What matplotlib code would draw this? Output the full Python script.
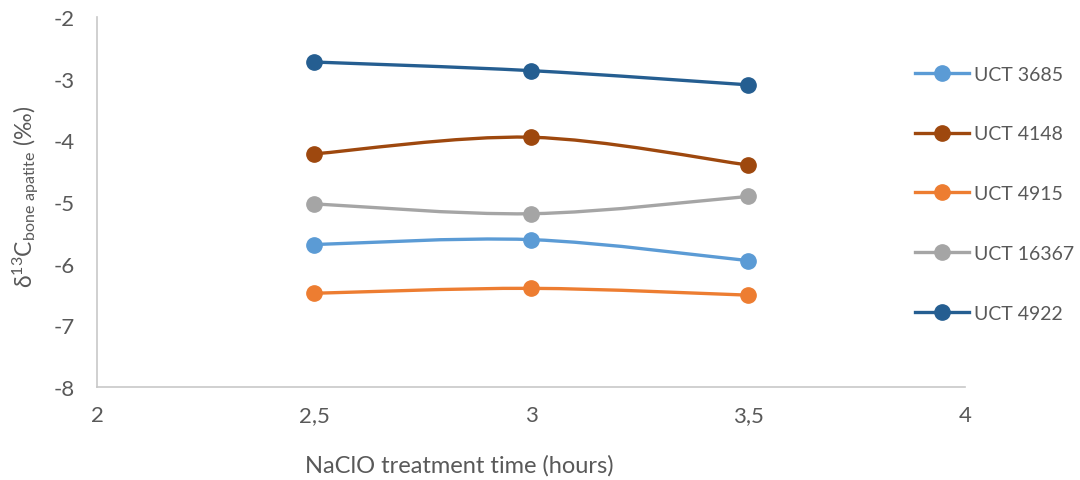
import matplotlib
matplotlib.use("Agg")
import matplotlib.pyplot as plt
import numpy as np
from matplotlib.path import Path
from matplotlib.patches import PathPatch
from matplotlib.lines import Line2D

plt.rcParams['font.family'] = ['Lato', 'DejaVu Sans']
plt.rcParams['mathtext.fontset'] = 'custom'
plt.rcParams['mathtext.rm'] = 'Lato'
plt.rcParams['mathtext.it'] = 'Lato'
plt.rcParams['axes.unicode_minus'] = False

# --- data ---
hours = [2.5, 3.0, 3.5]
samples = ['UCT 3685', 'UCT 4148', 'UCT 4915', 'UCT 16367', 'UCT 4922']
uct_3685 = [-5.69, -5.61, -5.95]
uct_4148 = [-4.22, -3.95, -4.40]
uct_4915 = [-6.48, -6.40, -6.51]
uct_16367 = [-5.03, -5.19, -4.91]
uct_4922 = [-2.73, -2.87, -3.10]
colors = ['#5B9BD5', '#9E480E', '#ED7D31', '#A5A5A5', '#255E91']
series = [uct_3685, uct_4148, uct_4915, uct_16367, uct_4922]


def smooth_path(x, y):
    # Excel-style smoothed line: Catmull-Rom turned into cubic Bezier segments
    x = np.asarray(x, float)
    y = np.asarray(y, float)
    n = len(x)
    verts = [(x[0], y[0])]
    codes = [Path.MOVETO]
    for i in range(n - 1):
        i0 = max(i - 1, 0)
        i3 = min(i + 2, n - 1)
        c1 = (x[i] + (x[i + 1] - x[i0]) / 6, y[i] + (y[i + 1] - y[i0]) / 6)
        c2 = (x[i + 1] - (x[i3] - x[i]) / 6, y[i + 1] - (y[i3] - y[i]) / 6)
        verts += [c1, c2, (x[i + 1], y[i + 1])]
        codes += [Path.CURVE4] * 3
    return Path(verts, codes)


fig = plt.figure(figsize=(10.8, 4.81), dpi=100)
ax = fig.add_axes([0.0898, 0.1933, 0.8037, 0.7693])

handles = []
for name, vals, c in zip(samples, series, colors):
    ax.add_patch(PathPatch(smooth_path(hours, vals), facecolor='none',
                           edgecolor=c, lw=2.4, capstyle='round'))
    ax.plot(hours, vals, 'o', color=c, ms=11, zorder=3)
    handles.append(Line2D([], [], color=c, lw=2.4, marker='o', ms=11, label=name))

ax.set_xlim(2, 4)
ax.set_ylim(-8, -2)
ax.set_xticks([2, 2.5, 3, 3.5, 4])
ax.set_xticklabels(['2', '2,5', '3', '3,5', '4'])
ax.set_yticks([-8, -7, -6, -5, -4, -3, -2])
ax.tick_params(length=0, labelsize=16, colors='#595959', pad=13)
ax.tick_params(axis='y', pad=16)
for s in ['top', 'right']:
    ax.spines[s].set_visible(False)
for s in ['left', 'bottom']:
    ax.spines[s].set_color('#C8C8C8')
    ax.spines[s].set_linewidth(1.2)

ax.set_xlabel('NaClO treatment time (hours)', fontsize=17, color='#595959')
ax.xaxis.label.set_va('center')
ax.xaxis.set_label_coords(0.418, -0.211)
ax.set_ylabel(r'δ$^{13}$C$_{\mathrm{bone\ apatite}}$ (‰)', fontsize=16.5, color='#595959')
ax.yaxis.label.set_va('center')
ax.yaxis.set_label_coords(-0.081, 0.516)

fig.legend(handles=handles, loc='upper left', bbox_to_anchor=(0.831, 0.898),
           frameon=False, fontsize=14, labelcolor='#595959', handlelength=2.8,
           handletextpad=0.26, labelspacing=2.2)

fig.savefig('out.png', dpi=100)
